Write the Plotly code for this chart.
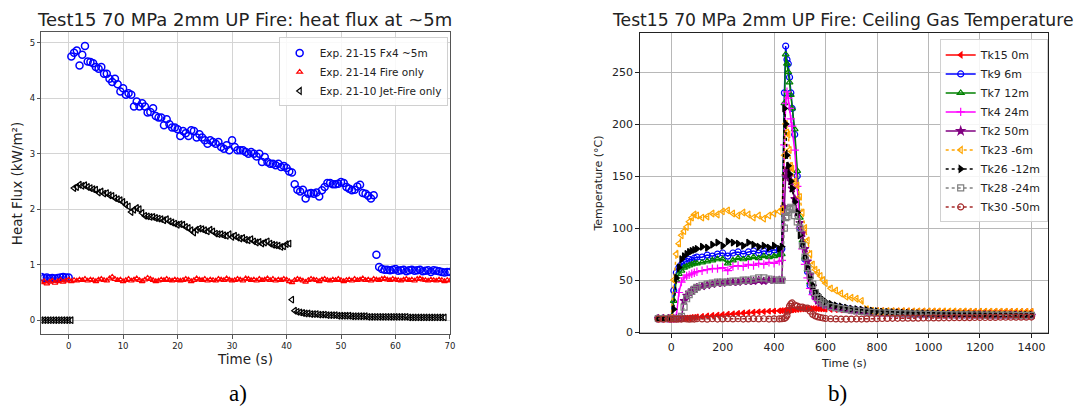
import numpy as np
import plotly.graph_objects as go

# ---------------- (a) heat flux at ~5 m, sampled every 0.5 s ----------------
DT = 0.5

# Exp. 21-15 Fx4 ~5m  (three segments: before ignition, fire, after)
fx4_pre_start = -5.0
fx4_pre = [0.78, 0.76, 0.77, 0.75, 0.76, 0.75, 0.76, 0.77, 0.78, 0.77, 0.77]
fx4_fire_start = 0.5
fx4_fire = [4.75, 4.82, 4.86, 4.59, 4.78, 4.94, 4.66, 4.65, 4.63, 4.56,
            4.53, 4.56, 4.44, 4.44, 4.35, 4.29, 4.35, 4.25, 4.12, 4.18,
            4.06, 4.09, 4.06, 3.85, 3.94, 3.85, 3.91, 3.85, 3.74, 3.75,
            3.82, 3.68, 3.65, 3.65, 3.51, 3.62, 3.53, 3.47, 3.47, 3.44,
            3.32, 3.41, 3.37, 3.32, 3.42, 3.41, 3.29, 3.35, 3.29, 3.24,
            3.18, 3.24, 3.21, 3.18, 3.21, 3.12, 3.09, 3.15, 3.06, 3.24,
            3.12, 3.06, 3.06, 3.06, 3.03, 3.00, 3.03, 3.00, 2.95, 3.00,
            2.85, 2.94, 2.85, 2.82, 2.82, 2.79, 2.82, 2.76, 2.78, 2.74,
            2.68, 2.66, 2.45, 2.35, 2.32, 2.35, 2.19, 2.28, 2.29, 2.28,
            2.30, 2.23, 2.34, 2.40, 2.47, 2.47, 2.45, 2.45, 2.46, 2.49,
            2.47, 2.40, 2.37, 2.34, 2.35, 2.41, 2.44, 2.29, 2.28, 2.24,
            2.19, 2.25]
fx4_post_start = 56.5
fx4_post = [1.18, 0.96, 0.92, 0.91, 0.91, 0.90, 0.91, 0.92, 0.89, 0.90,
            0.91, 0.88, 0.90, 0.91, 0.89, 0.90, 0.91, 0.88, 0.89, 0.90,
            0.87, 0.90, 0.89, 0.88, 0.87, 0.86, 0.87, 0.87]

# Exp. 21-14 Fire only
fire_start = -5.0
fire_only = [0.68, 0.70, 0.66, 0.69, 0.71, 0.67, 0.70, 0.72, 0.69, 0.71,
             0.73, 0.70, 0.72, 0.71, 0.73, 0.72, 0.74, 0.71, 0.73, 0.72,
             0.70, 0.73, 0.74, 0.72, 0.71, 0.75, 0.78, 0.74, 0.72, 0.73, 0.70,
             0.72, 0.74, 0.71, 0.73, 0.75, 0.72, 0.70, 0.73, 0.76, 0.74,
             0.72, 0.70, 0.71, 0.73, 0.72, 0.74, 0.72, 0.71, 0.73, 0.72,
             0.71, 0.72, 0.74, 0.73, 0.70, 0.72, 0.75, 0.73, 0.72, 0.74,
             0.71, 0.73, 0.72, 0.71, 0.74, 0.73, 0.72, 0.75, 0.73, 0.71,
             0.72, 0.74, 0.73, 0.71, 0.75, 0.74, 0.72, 0.73, 0.71, 0.74,
             0.72, 0.73, 0.75, 0.72, 0.74, 0.71, 0.73, 0.72, 0.74, 0.73,
             0.70, 0.68, 0.72, 0.74, 0.73, 0.71, 0.69, 0.72, 0.74, 0.73,
             0.72, 0.70, 0.73, 0.74, 0.72, 0.71, 0.73, 0.72, 0.74, 0.72,
             0.70, 0.72, 0.73, 0.71, 0.74, 0.72, 0.73, 0.75, 0.72, 0.73,
             0.71, 0.74, 0.73, 0.72, 0.74, 0.75, 0.73, 0.72, 0.74, 0.73,
             0.72, 0.71, 0.73, 0.74, 0.72, 0.73, 0.71, 0.74, 0.75, 0.73,
             0.72, 0.71, 0.73, 0.72, 0.71, 0.73, 0.72, 0.70, 0.72, 0.71]

# Exp. 21-10 Jet-Fire only
jet_pre_start = -5.0
jet_pre = [0.0] * 12
jet_main_start = 1.0
jet_main = [2.38, 2.40, 2.44, 2.42, 2.43, 2.40, 2.38, 2.36, 2.35, 2.30,
            2.32, 2.28, 2.29, 2.25, 2.24, 2.20, 2.18, 2.16, 2.13, 2.08,
            2.05, 1.95, 1.99, 2.02, 2.00, 1.93, 1.88, 1.87, 1.86, 1.86,
            1.84, 1.83, 1.82, 1.80, 1.82, 1.78, 1.76, 1.74, 1.72, 1.73,
            1.72, 1.68, 1.66, 1.62, 1.58, 1.63, 1.65, 1.64, 1.62, 1.60,
            1.63, 1.60, 1.56, 1.55, 1.55, 1.53, 1.52, 1.55, 1.50, 1.52,
            1.49, 1.47, 1.48, 1.45, 1.44, 1.46, 1.42, 1.40, 1.41, 1.38,
            1.40, 1.42, 1.38, 1.36, 1.35, 1.34, 1.32, 1.33, 1.37, 1.38]
jet_tail_start = 41.0
jet_tail = [0.37, 0.17, 0.15, 0.14, 0.13, 0.12, 0.12, 0.11, 0.11, 0.11,
            0.10, 0.10, 0.10, 0.09, 0.09, 0.09, 0.09, 0.08, 0.08, 0.08,
            0.08, 0.08, 0.07, 0.07, 0.07, 0.07, 0.07, 0.07, 0.06, 0.06,
            0.06, 0.06, 0.06, 0.06, 0.06, 0.06, 0.06, 0.06, 0.06, 0.06,
            0.06, 0.06, 0.06, 0.05, 0.05, 0.05, 0.05, 0.05, 0.05, 0.05,
            0.05, 0.05, 0.05, 0.05, 0.05, 0.05, 0.05]


def sample_times(start, values):
    return [start + DT * i for i in range(len(values))]


# ---------------- (b) ceiling gas temperatures ----------------
time_b = [-50, -30, -10, 0, 10, 20, 30, 40, 50, 60, 70, 80, 90, 100,
          120, 140, 160, 180, 200, 220, 240, 260, 280, 300, 320, 340, 360, 380, 400, 420,
          430, 440, 445, 450, 455, 460, 465, 470,
          480, 490, 500, 510, 520, 530, 540, 550, 560, 570, 580, 590, 600,
          620, 640, 660, 680, 700, 720, 740, 760, 780, 800,
          820, 840, 860, 880, 900, 920, 940, 960, 980, 1000,
          1020, 1040, 1060, 1080, 1100, 1120, 1140, 1160, 1180, 1200,
          1220, 1240, 1260, 1280, 1300, 1320, 1340, 1360, 1380, 1400]

tk15 = [12.5, 12.4, 12.5, 12.5, 12.6, 12.7, 12.9, 13.1, 13.3, 13.5, 13.7, 14.0, 14.2, 14.5,
        15.0, 15.5, 16.0, 16.4, 16.8, 17.2, 17.6, 18.0, 18.4, 18.8, 19.1, 19.4, 19.7, 20.0, 20.2, 20.4,
        20.5, 20.7, 20.8, 20.9, 21.0, 21.1, 21.2, 21.3,
        21.5, 21.7, 22.0, 22.2, 22.3, 22.4, 22.5, 22.5, 22.5, 22.4, 22.3, 22.2, 22.0,
        21.8, 21.6, 21.4, 21.2, 21.0, 20.9, 20.8, 20.7, 20.6, 20.5,
        20.5, 20.4, 20.4, 20.3, 20.3, 20.3, 20.2, 20.2, 20.2, 20.1,
        20.1, 20.1, 20.1, 20.0, 20.0, 20.0, 20.0, 20.0, 20.0, 19.9,
        19.9, 19.9, 19.9, 19.9, 19.9, 19.9, 19.8, 19.8, 19.8, 19.8]
tk9 = [13, 13, 13, 13, 40, 57, 62, 65, 67, 68, 70, 69, 71, 72,
       72, 74, 73, 75, 76, 73, 76, 77, 75, 77, 78, 76, 78, 77, 79, 78,
       80, 230, 275, 262, 258, 245, 230, 215,
       190, 150, 100, 85, 70, 58, 45, 38, 34, 31, 29, 28, 27,
       25.5, 24.5, 23.5, 22.5, 21.5, 21.0, 20.5, 20.0, 19.5, 19.0,
       18.8, 18.5, 18.3, 18.1, 18.0, 17.8, 17.7, 17.6, 17.5, 17.4,
       17.3, 17.2, 17.1, 17.0, 17.0, 16.9, 16.8, 16.8, 16.7, 16.7,
       16.6, 16.6, 16.5, 16.5, 16.5, 16.4, 16.4, 16.4, 16.3, 16.3]
tk7 = [13, 13, 13, 13, 30, 50, 56, 59, 62, 63, 64, 65, 66, 66,
       67, 68, 69, 70, 70, 66, 69, 71, 70, 71, 72, 71, 73, 72, 73, 74,
       75, 220, 267, 258, 250, 240, 228, 215,
       195, 155, 110, 88, 72, 60, 48, 40, 35, 32, 30, 28.5, 27.5,
       25.3, 24.3, 23.3, 22.4, 21.5, 20.9, 20.4, 19.9, 19.4, 19.0,
       18.7, 18.4, 18.2, 18.0, 17.9, 17.7, 17.6, 17.5, 17.4, 17.3,
       17.2, 17.1, 17.0, 16.9, 16.9, 16.8, 16.7, 16.7, 16.6, 16.6,
       16.5, 16.5, 16.4, 16.4, 16.4, 16.3, 16.3, 16.3, 16.2, 16.2]
tk4 = [13, 13, 13, 13, 13, 15, 38, 48, 52, 54, 55, 56, 57, 58,
       59, 60, 61, 61, 62, 59, 63, 64, 63, 65, 64, 66, 65, 67, 66, 68,
       69, 180, 220, 231, 225, 215, 205, 198,
       175, 140, 100, 80, 65, 52, 42, 36, 32, 29.5, 28, 27, 26,
       24.8, 23.8, 22.9, 22.0, 21.2, 20.6, 20.1, 19.6, 19.2, 18.8,
       18.5, 18.3, 18.1, 17.9, 17.8, 17.6, 17.5, 17.4, 17.3, 17.2,
       17.1, 17.0, 16.9, 16.9, 16.8, 16.7, 16.7, 16.6, 16.6, 16.5,
       16.5, 16.4, 16.4, 16.4, 16.3, 16.3, 16.3, 16.2, 16.2, 16.2]
tk2 = [13, 13, 13, 13, 13, 13, 13, 14, 30, 35, 38, 40, 42, 43,
       44, 45, 46, 47, 47, 48, 48, 48, 49, 49, 49, 50, 49, 50, 50, 50,
       50, 120, 150, 157, 155, 150, 145, 138,
       128, 115, 105, 95, 80, 68, 55, 44, 34, 30, 28, 27, 26,
       24.6, 23.6, 22.7, 21.9, 21.1, 20.5, 20.0, 19.5, 19.1, 18.7,
       18.4, 18.2, 18.0, 17.8, 17.7, 17.5, 17.4, 17.3, 17.2, 17.1,
       17.0, 16.9, 16.8, 16.8, 16.7, 16.6, 16.6, 16.5, 16.5, 16.4,
       16.4, 16.3, 16.3, 16.3, 16.2, 16.2, 16.2, 16.1, 16.1, 16.1]
tk23 = [13, 13, 13, 14, 50, 75, 85, 93, 97, 101, 106, 110, 113, 112,
        110, 111, 114, 113, 116, 117, 114, 112, 115, 113, 110, 112, 109, 112, 114, 116,
        118, 170, 200, 192, 190, 175, 160, 157,
        145, 141, 130, 115, 100, 88, 75, 65, 60, 57, 54, 50, 47,
        42, 40, 37, 34, 33, 32, 30, 22, 20.5, 20.0,
        20.0, 20.1, 20.0, 19.9, 20.0, 19.9, 19.9, 19.8, 19.9, 19.8,
        19.8, 19.7, 19.8, 19.7, 19.7, 19.6, 19.7, 19.6, 19.6, 19.6,
        19.5, 19.6, 19.5, 19.5, 19.5, 19.4, 19.5, 19.4, 19.4, 19.4]
tk26 = [13, 13, 13, 13, 22, 52, 62, 70, 73, 75, 77, 78, 79, 80,
        82, 81, 84, 86, 83, 87, 86, 85, 83, 86, 84, 82, 83, 81, 83, 80,
        82, 215, 200, 170, 160, 152, 145, 138,
        125, 115, 93, 85, 72, 62, 52, 45, 39, 36, 33, 31, 29,
        27.0, 25.5, 24.5, 23.5, 22.5, 22.0, 21.5, 21.0, 20.5, 20.0,
        19.6, 19.3, 19.0, 18.8, 18.6, 18.4, 18.2, 18.0, 17.9, 17.8,
        17.7, 17.6, 17.5, 17.4, 17.3, 17.2, 17.2, 17.1, 17.0, 17.0,
        16.9, 16.9, 16.8, 16.8, 16.7, 16.7, 16.7, 16.6, 16.6, 16.6]
tk28 = [13, 13, 13, 13, 13, 13, 13, 15, 24, 32, 36, 39, 41, 43,
        45, 46, 47, 48, 48, 48, 49, 49, 50, 50, 51, 52, 52, 51, 50, 50,
        50, 100, 110, 111, 115, 118, 120, 119,
        112, 106, 100, 83, 72, 62, 54, 46, 38, 33, 30, 28, 26,
        24.4, 23.4, 22.5, 21.7, 21.0, 20.4, 19.9, 19.4, 19.0, 18.6,
        18.3, 18.1, 17.9, 17.7, 17.6, 17.4, 17.3, 17.2, 17.1, 17.0,
        16.9, 16.8, 16.8, 16.7, 16.6, 16.6, 16.5, 16.5, 16.4, 16.4,
        16.3, 16.3, 16.3, 16.2, 16.2, 16.2, 16.1, 16.1, 16.1, 16.0]
tk30 = [12.5, 12.5, 12.8, 12.5, 12.6, 12.4, 12.7, 12.5, 12.8, 12.6, 12.4, 12.7, 12.5, 12.8,
        12.6, 12.4, 12.8, 12.5, 12.7, 12.9, 12.6, 12.8, 12.5, 12.7, 12.9, 12.6, 12.8, 12.5, 12.7, 12.6,
        12.8, 13.0, 14.0, 16.0, 20.0, 25.0, 27.0, 28.0,
        26, 25, 24, 24, 23, 23, 20, 17, 15.5, 14.5, 14, 13.5, 13,
        12.8, 12.6, 12.5, 12.4, 12.5, 12.6, 12.5, 12.7, 12.8, 12.9,
        13.0, 13.1, 13.2, 13.2, 13.3, 13.3, 13.4, 13.4, 13.5, 13.5,
        13.6, 13.6, 13.7, 13.7, 13.8, 13.8, 13.9, 13.9, 14.0, 14.0,
        14.0, 14.1, 14.1, 14.2, 14.2, 14.2, 14.3, 14.3, 14.3, 14.4]

FONT = "DejaVu Sans"
fig = go.Figure()

# ---- panel (a) ----
fig.add_trace(go.Scatter(
    x=sample_times(fx4_pre_start, fx4_pre) + sample_times(fx4_fire_start, fx4_fire)
      + sample_times(fx4_post_start, fx4_post),
    y=fx4_pre + fx4_fire + fx4_post,
    mode="markers", name="Exp. 21-15 Fx4 ~5m",
    marker=dict(symbol="circle-open", size=7, color="blue", line=dict(width=1.5, color="blue")),
    xaxis="x", yaxis="y", legend="legend"))
fig.add_trace(go.Scatter(
    x=sample_times(fire_start, fire_only), y=fire_only,
    mode="markers", name="Exp. 21-14 Fire only",
    marker=dict(symbol="triangle-up-open", size=5, color="red", line=dict(width=1.2, color="red")),
    xaxis="x", yaxis="y", legend="legend"))
fig.add_trace(go.Scatter(
    x=sample_times(jet_pre_start, jet_pre) + sample_times(jet_main_start, jet_main)
      + sample_times(jet_tail_start, jet_tail),
    y=jet_pre + jet_main + jet_tail,
    mode="markers", name="Exp. 21-10 Jet-Fire only",
    marker=dict(symbol="triangle-left-open", size=6, color="black", line=dict(width=1.2, color="black")),
    xaxis="x", yaxis="y", legend="legend"))

# ---- panel (b) ----
series_b = [
    ("Tk15 0m", tk15, "red", "solid", "triangle-left", 5),
    ("Tk9 6m", tk9, "blue", "solid", "circle-open", 6),
    ("Tk7 12m", tk7, "green", "solid", "triangle-up-open", 6),
    ("Tk4 24m", tk4, "magenta", "solid", "cross-thin-open", 6),
    ("Tk2 50m", tk2, "purple", "solid", "star", 6),
    ("Tk23 -6m", tk23, "orange", "dot", "triangle-left-open", 6),
    ("Tk26 -12m", tk26, "black", "dot", "triangle-right", 6),
    ("Tk28 -24m", tk28, "gray", "dot", "square-open", 6),
    ("Tk30 -50m", tk30, "brown", "dot", "circle-open", 6),
]
for name, vals, col, dash, sym, size in series_b:
    fig.add_trace(go.Scatter(
        x=time_b, y=vals, mode="lines+markers", name=name,
        line=dict(color=col, width=1.5, dash=dash),
        marker=dict(symbol=sym, size=size, color=col, line=dict(width=1.2, color=col)),
        xaxis="x2", yaxis="y2", legend="legend2"))

axis_common = dict(showline=True, mirror=True, ticks="outside", ticklen=3.5,
                   zeroline=False, showgrid=True)

fig.update_layout(
    width=1083, height=412,
    margin=dict(l=0, r=0, t=0, b=0),
    paper_bgcolor="white", plot_bgcolor="white",
    font=dict(family=FONT, color="#222222"),
    xaxis=dict(domain=[0.0384, 0.4174], range=[-5, 70], tickvals=[0, 10, 20, 30, 40, 50, 60, 70],
               tickfont=dict(size=8.5), linecolor="#555555", tickcolor="#555555",
               gridcolor="#d4d4d4", gridwidth=1.4, anchor="y", **axis_common),
    yaxis=dict(domain=[0.1772, 0.9223], range=[-0.25, 5.2], tickvals=[0, 1, 2, 3, 4, 5],
               tickfont=dict(size=8.5), linecolor="#555555", tickcolor="#555555",
               gridcolor="#d4d4d4", gridwidth=1.4, anchor="x", **axis_common),
    xaxis2=dict(domain=[0.5935, 0.9723], range=[-122, 1465],
                tickvals=[0, 200, 400, 600, 800, 1000, 1200, 1400],
                tickfont=dict(size=11), linecolor="#222222", tickcolor="#222222",
                gridcolor="#b8b8b8", gridwidth=1, anchor="y2", **axis_common),
    yaxis2=dict(domain=[0.1796, 0.9199], range=[-1, 288], tickvals=[0, 50, 100, 150, 200, 250],
                tickfont=dict(size=11), linecolor="#222222", tickcolor="#222222",
                gridcolor="#b8b8b8", gridwidth=1, anchor="x2", **axis_common),
    legend=dict(x=0.2585, y=0.9078, xanchor="left", yanchor="top",
                bgcolor="rgba(255,255,255,0.85)", bordercolor="#d0d0d0", borderwidth=1,
                font=dict(size=10.5, family=FONT), tracegroupgap=0, itemwidth=30),
    legend2=dict(x=0.8717, y=0.9029, xanchor="left", yanchor="top",
                 bgcolor="rgba(255,255,255,0.85)", bordercolor="#d0d0d0", borderwidth=1,
                 font=dict(size=11, family=FONT), tracegroupgap=0, itemwidth=30),
    showlegend=True,
)

annotations = [
    dict(text="Test15 70 MPa 2mm UP Fire: heat flux at ~5m", x=246 / 1083, y=1 - 20 / 412,
         font=dict(size=18)),
    dict(text="Test15 70 MPa 2mm UP Fire: Ceiling Gas Temperature", x=846 / 1083, y=1 - 20 / 412,
         font=dict(size=17.2)),
    dict(text="Time (s)", x=246 / 1083, y=1 - 364 / 412, font=dict(size=13.5)),
    dict(text="Heat Flux (kW/m²)", x=17 / 1083, y=1 - 186 / 412, textangle=-90, font=dict(size=13.5)),
    dict(text="Time (s)", x=848 / 1083, y=1 - 369 / 412, font=dict(size=11)),
    dict(text="Temperature (°C)", x=601 / 1083, y=1 - 186 / 412, textangle=-90, font=dict(size=11)),
    dict(text="a)", x=239 / 1083, y=1 - 399 / 412,
         font=dict(size=23, family="Liberation Serif", color="black")),
    dict(text="b)", x=841 / 1083, y=1 - 399 / 412,
         font=dict(size=23, family="Liberation Serif", color="black")),
]
for a in annotations:
    a.update(xref="paper", yref="paper", showarrow=False, xanchor="center", yanchor="middle")
fig.update_layout(annotations=annotations)

fig.write_html("out.html")
